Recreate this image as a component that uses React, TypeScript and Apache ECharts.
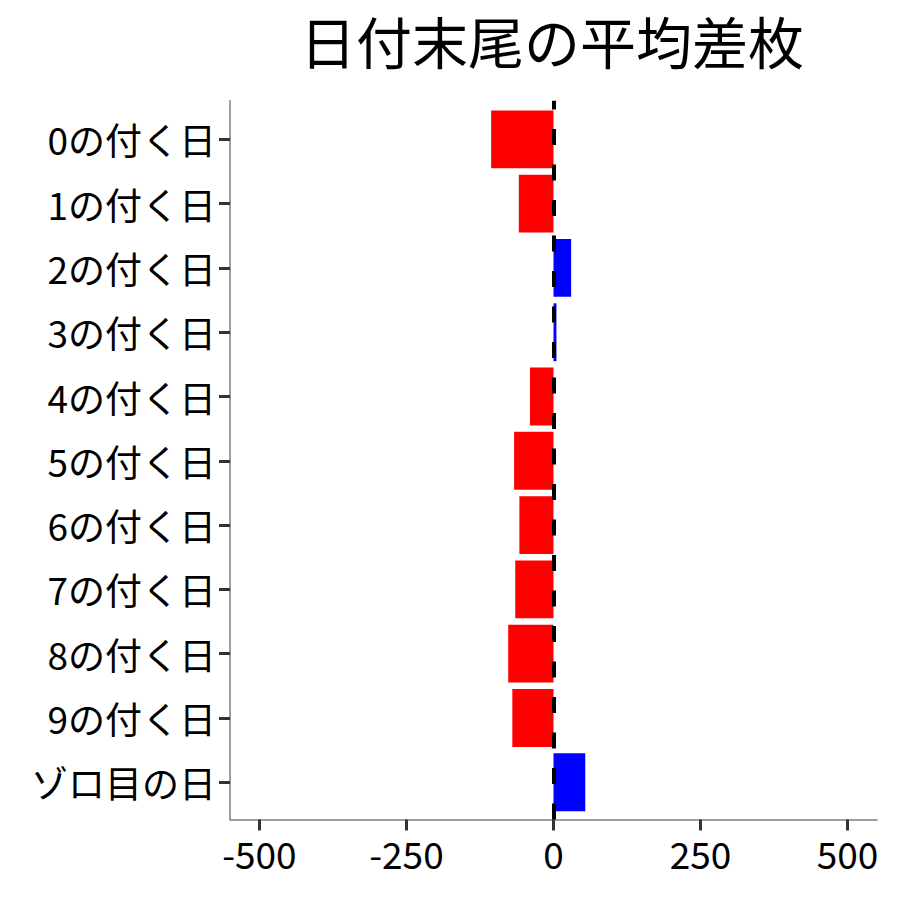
import * as echarts from "echarts"
import { useEffect, useRef } from "react"

const chartTitle = "日付末尾の平均差枚"
const categories = [
  "0の付く日",
  "1の付く日",
  "2の付く日",
  "3の付く日",
  "4の付く日",
  "5の付く日",
  "6の付く日",
  "7の付く日",
  "8の付く日",
  "9の付く日",
  "ゾロ目の日",
]
// average difference (枚) per category
const avgDiff = [-106, -59, 30, 5, -40, -67, -58, -65, -77, -70, 54]
const xTicks = [-500, -250, 0, 250, 500]
const xMin = -550
const xMax = 550
const refLine = 0

const FONT = "'Noto Sans CJK JP', 'Noto Sans', sans-serif"

export default function App(): React.ReactElement {
  const ref = useRef<HTMLDivElement>(null)

  useEffect(() => {
    document.body.style.margin = "0"
    const node = ref.current
    if (!node) return
    const chart = echarts.init(node, undefined, { renderer: "svg" })

    const tickStyle = { color: "#333333", width: 3 }
    const lineStyle = { color: "#7f7f7f", width: 1.5 }

    chart.setOption({
      animation: false,
      backgroundColor: "#ffffff",
      title: {
        text: chartTitle,
        left: 547,
        top: 6,
        textAlign: "center",
        textStyle: { fontFamily: FONT, fontSize: 56, fontWeight: "normal", color: "#000" },
      },
      grid: [
        { left: 230, right: 23, top: 107.2, bottom: 85.6 },
        { left: 230, right: 23, top: 100.7, bottom: 80.5 },
      ],
      xAxis: [
        { gridIndex: 0, type: "value", min: xMin, max: xMax, show: false },
        {
          gridIndex: 1,
          type: "value",
          min: xMin,
          max: xMax,
          axisLine: { show: true, onZero: false, lineStyle },
          axisTick: { show: true, length: 11, lineStyle: tickStyle, customValues: xTicks },
          axisLabel: {
            customValues: xTicks,
            margin: 15,
            fontSize: 37,
            color: "#000",
            fontFamily: FONT,
          },
          splitLine: { show: false },
        },
      ],
      yAxis: [
        {
          gridIndex: 0,
          type: "category",
          data: categories,
          inverse: true,
          axisLine: { show: false, onZero: false },
          axisTick: { show: true, length: 11, alignWithLabel: true, lineStyle: tickStyle },
          axisLabel: { margin: 14, fontSize: 37, color: "#000", fontFamily: FONT },
          splitLine: { show: false },
        },
        {
          gridIndex: 1,
          type: "value",
          min: 0,
          max: 1,
          axisLine: { show: true, onZero: false, lineStyle },
          axisTick: { show: false },
          axisLabel: { show: false },
          splitLine: { show: false },
        },
      ],
      series: [
        {
          type: "bar",
          xAxisIndex: 0,
          yAxisIndex: 0,
          barWidth: "90%",
          data: avgDiff.map((v) => ({
            value: v,
            itemStyle: { color: v >= 0 ? "#0000ff" : "#ff0000" },
          })),
        },
        {
          type: "line",
          xAxisIndex: 1,
          yAxisIndex: 1,
          data: [],
          markLine: {
            silent: true,
            symbol: ["none", "none"],
            label: { show: false },
            lineStyle: { color: "#000", type: [16, 19.5], width: 4 },
            data: [{ xAxis: refLine }],
          },
        },
      ],
    })

    return () => chart.dispose()
  }, [])

  return <div ref={ref} style={{ width: 900, height: 900 }} />
}
